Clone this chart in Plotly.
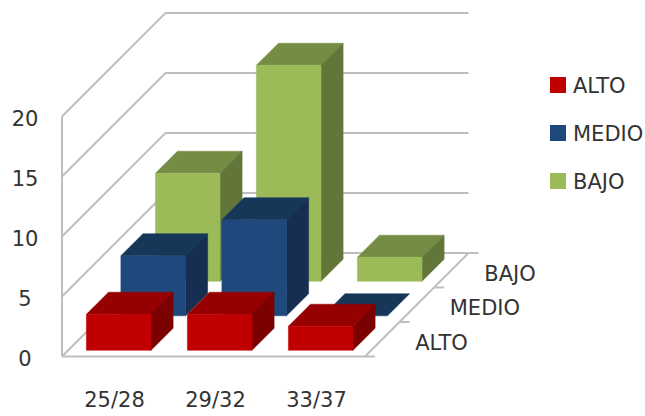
import plotly.graph_objects as go

categories = ["25/28", "29/32", "33/37"]
series_names = ["ALTO", "MEDIO", "BAJO"]
alto = [3, 3, 2]
medio = [5, 8, 0]
bajo = [9, 18, 2]
y_ticks = [0, 5, 10, 15, 20]

series_values = [alto, medio, bajo]
front_colors = ["#C00000", "#1F497D", "#9BBB59"]
top_colors = ["#960000", "#173759", "#748C43"]
side_colors = ["#7B0000", "#152E52", "#62763A"]
GRID = "#BEBEBE"
TEXT = "#333333"
FONT = "DejaVu Sans"

# oblique projection of (category, depth, value) to the page
X0, Y0 = 62.0, 356.5
CAT_W, ROW_D, UNIT = 101.0, 34.5, 12.0
BAR_W, BAR_D = 0.64, 0.64


def proj(c, d, v):
    return X0 + c * CAT_W + d * ROW_D, Y0 - d * ROW_D - v * UNIT


def line(pts, width=2):
    xs, ys = zip(*pts)
    return go.Scatter(x=xs, y=ys, mode="lines", line=dict(color=GRID, width=width),
                      showlegend=False, hoverinfo="skip")


def poly(pts, color):
    xs, ys = zip(*pts)
    return go.Scatter(x=list(xs) + [xs[0]], y=list(ys) + [ys[0]], mode="lines", fill="toself",
                      fillcolor=color, line=dict(color=color, width=0.5),
                      showlegend=False, hoverinfo="skip")


fig = go.Figure()
nc, nd = len(categories), len(series_names)
top_v = y_ticks[-1]

# walls and floor
for t in y_ticks:
    fig.add_trace(line([proj(0, 0, t), proj(0, nd, t), proj(nc, nd, t)]))
fig.add_trace(line([proj(0, 0, 0), proj(0, 0, top_v)]))
fig.add_trace(line([proj(0, 0, 0), proj(nc, 0, 0), proj(nc, nd, 0)]))
for d in range(nd + 1):
    x, y = proj(nc, d, 0)
    fig.add_trace(line([(x, y), (x + 10, y)]))

# bars, back row first
for d in reversed(range(nd)):
    for c in range(nc):
        v = series_values[d][c]
        cx0 = c + (1 - BAR_W) / 2
        cx1 = cx0 + BAR_W
        d0 = d + (1 - BAR_D) / 2
        d1 = d0 + BAR_D
        fig.add_trace(poly([proj(cx0, d0, v), proj(cx1, d0, v), proj(cx1, d1, v), proj(cx0, d1, v)], top_colors[d]))
        if v > 0:
            fig.add_trace(poly([proj(cx1, d0, 0), proj(cx1, d1, 0), proj(cx1, d1, v), proj(cx1, d0, v)], side_colors[d]))
            fig.add_trace(poly([proj(cx0, d0, 0), proj(cx1, d0, 0), proj(cx1, d0, v), proj(cx0, d0, v)], front_colors[d]))

# axis labels
font = dict(family=FONT, size=21, color=TEXT)
fig.add_trace(go.Scatter(x=[X0 - 37] * len(y_ticks), y=[proj(0, 0, t)[1] + 4 for t in y_ticks],
                         text=[str(t) for t in y_ticks], mode="text", textfont=font,
                         showlegend=False, hoverinfo="skip"))
fig.add_trace(go.Scatter(x=[proj(i + 0.5, 0, 0)[0] + 2 for i in range(nc)],
                         y=[402] * nc, text=categories, mode="text", textfont=font,
                         showlegend=False, hoverinfo="skip"))
fig.add_trace(go.Scatter(x=[proj(nc, i + 0.5, 0)[0] + 33 for i in range(nd)],
                         y=[proj(nc, i + 0.5, 0)[1] + 5 for i in range(nd)],
                         text=series_names, mode="text", textposition="middle right", textfont=font,
                         showlegend=False, hoverinfo="skip"))

# legend, drawn as markers with their labels
LEG_X, LEG_Y, LEG_STEP = 558, 85, 48
for i, name in enumerate(series_names):
    fig.add_trace(go.Scatter(x=[LEG_X], y=[LEG_Y + i * LEG_STEP], name=name, mode="markers",
                             marker=dict(symbol="square", size=16, color=front_colors[i]),
                             showlegend=False, hoverinfo="skip"))
    fig.add_trace(go.Scatter(x=[LEG_X + 15], y=[LEG_Y + i * LEG_STEP + 3], text=[name], mode="text",
                             textposition="middle right", textfont=font,
                             showlegend=False, hoverinfo="skip"))

fig.update_layout(
    width=645, height=416, margin=dict(l=0, r=0, t=0, b=0),
    paper_bgcolor="white", plot_bgcolor="white", showlegend=False,
    xaxis=dict(range=[0, 645], visible=False, fixedrange=True),
    yaxis=dict(range=[416, 0], visible=False, fixedrange=True),
)
fig.write_html("out.html", config={"displayModeBar": False},
               post_script="document.body.style.margin='0';document.documentElement.style.overflow='hidden';")
